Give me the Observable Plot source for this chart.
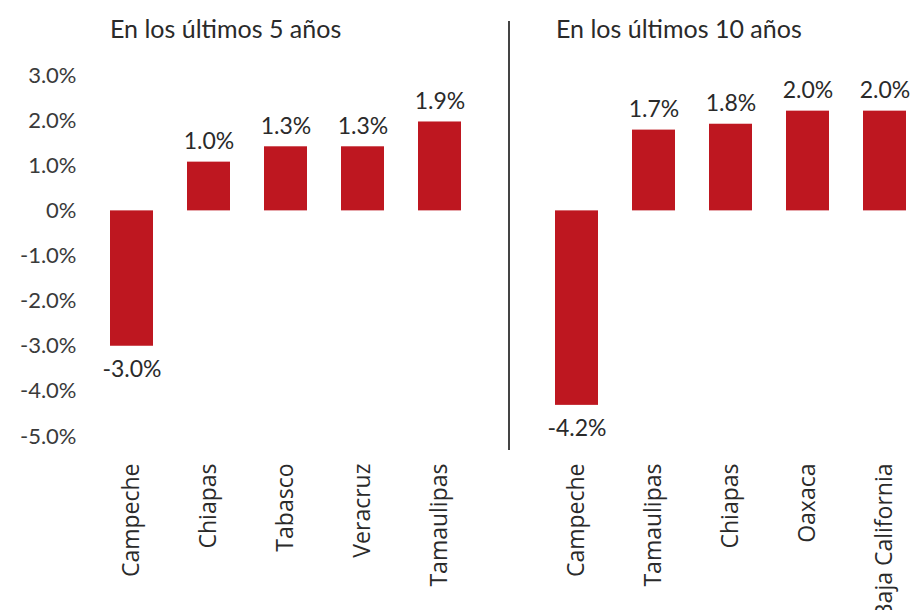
<!DOCTYPE html>
<html>
<head>
<meta charset="utf-8">
<script src="https://cdn.jsdelivr.net/npm/d3@7"></script>
<script src="https://cdn.jsdelivr.net/npm/@observablehq/plot@0.6"></script>
<style>
  body { margin: 0; background: #fff; }
  #wrap { position: relative; width: 914px; height: 610px; overflow: hidden; }
  #left, #right { position: absolute; top: 0; }
  #left { left: 0; }
  #right { left: 508px; }
  .title { position: absolute; top: 13px; font-family: Lato, "Open Sans", sans-serif; font-size: 25px; color: #2a2a2a; white-space: nowrap; }
  #divider { position: absolute; left: 508px; top: 21px; width: 2px; height: 429px; background: #444; }
</style>
</head>
<body>
<div id="wrap">
  <div id="left"></div>
  <div id="right"></div>
  <div id="divider"></div>
  <div class="title" id="t5" style="left:110px"></div>
  <div class="title" id="t10" style="left:556px"></div>
</div>
<script>
const title5 = "En los últimos 5 años";
const title10 = "En los últimos 10 años";
const categories5 = ["Campeche", "Chiapas", "Tabasco", "Veracruz", "Tamaulipas"];
const values5 = [-3.0, 1.08, 1.42, 1.42, 1.97];
const labels5 = ["-3.0%", "1.0%", "1.3%", "1.3%", "1.9%"];
const categories10 = ["Campeche", "Tamaulipas", "Chiapas", "Oaxaca", "Baja California"];
const values10 = [-4.31, 1.79, 1.92, 2.21, 2.21];
const labels10 = ["-4.2%", "1.7%", "1.8%", "2.0%", "2.0%"];
const yTicks = [3, 2, 1, 0, -1, -2, -3, -4, -5];
const yTickLabels = ["3.0%", "2.0%", "1.0%", "0%", "-1.0%", "-2.0%", "-3.0%", "-4.0%", "-5.0%"];

document.getElementById("t5").textContent = title5;
document.getElementById("t10").textContent = title10;

const RED = "#be1720";
const numFont = "Lato, 'Open Sans', sans-serif";
const catFont = "'Open Sans', 'Noto Sans', sans-serif";

function rows(cats, vals, labs) {
  return cats.map((c, i) => ({cat: c, value: vals[i], label: labs[i]}));
}

function panel(data, cats, width, xRange, showY) {
  const marks = [
    Plot.barY(data, {x: "cat", y: "value", fill: RED}),
    Plot.text(data.filter(d => d.value >= 0), {
      x: "cat", y: "value", text: "label", lineAnchor: "bottom", dy: -13,
      fontSize: 23, fontFamily: numFont, fill: "#2a2a2a"
    }),
    Plot.text(data.filter(d => d.value < 0), {
      x: "cat", y: "value", text: "label", lineAnchor: "top", dy: 14,
      fontSize: 23, fontFamily: numFont, fill: "#2a2a2a"
    }),
    Plot.axisX({
      tickRotate: -90, tickSize: 0, tickPadding: 27, label: null,
      fontSize: 23, fontFamily: catFont, fill: "#2a2a2a"
    })
  ];
  if (showY) {
    marks.push(Plot.axisY({
      ticks: yTicks, tickFormat: (d) => yTickLabels[yTicks.indexOf(d)],
      tickSize: 0, tickPadding: 4, label: null,
      fontSize: 22, fontFamily: numFont, fill: "#3a3a3a"
    }));
  }
  return Plot.plot({
    width, height: 610,
    marginTop: 75, marginBottom: 174, marginLeft: showY ? 80 : 0, marginRight: 0,
    style: {overflow: "visible", background: "transparent"},
    x: {domain: cats, range: xRange, padding: 0.445, axis: null},
    y: {domain: [-5, 3], axis: null},
    marks
  });
}

document.getElementById("left").append(
  panel(rows(categories5, values5, labels5), categories5, 508, [74.5, 496.5], true)
);
document.getElementById("right").append(
  panel(rows(categories10, values10, labels10), categories10, 406, [12.5, 433], false)
);
</script>
</body>
</html>
